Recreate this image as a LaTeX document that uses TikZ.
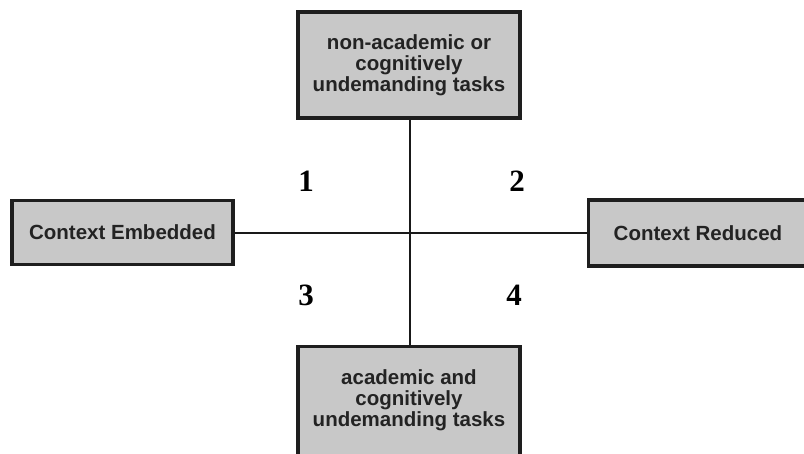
\documentclass[tikz,border=0pt]{standalone}
\usepackage{fontspec}
\setmainfont{Liberation Sans}
\newfontfamily\numfont{Liberation Serif}
\definecolor{boxfill}{RGB}{200,200,200}
\definecolor{boxedge}{RGB}{30,30,30}
\definecolor{boxtext}{RGB}{35,35,35}
\definecolor{linecol}{RGB}{25,25,25}
\tikzset{
  taskbox/.style={draw=boxedge, line width=3.2pt, fill=boxfill,
    text=boxtext, align=center, inner sep=0pt,
    font=\bfseries\fontsize{20.5}{21}\selectfont},
  boxlabel/.style={text=boxtext, align=center, inner sep=0pt,
    font=\bfseries\fontsize{20.5}{21}\selectfont},
  axis/.style={draw=linecol, line width=2.8pt},
  quadrant/.style={font=\numfont\bfseries\fontsize{31}{31}\selectfont, text=black}
}
\begin{document}
\begin{tikzpicture}[x=1pt,y=-1pt]
\useasboundingbox (0,0) rectangle (804,453);
\begin{scope}
\clip (0,0) rectangle (804,453);
% boxes at the four ends of the axes
\node[taskbox, minimum width=222pt, minimum height=106pt] (top) at (409,65)
  {non-academic or\\cognitively\\undemanding tasks};
\node[taskbox, minimum width=221pt, minimum height=64pt] (left) at (122.5,232.5)
  {Context Embedded};
% the right and bottom boxes run past the edge of the page
\node[taskbox, minimum width=300pt, minimum height=66pt, anchor=west] (right) at (587,233) {};
\node[boxlabel] (righttext) at (698,233) {Context Reduced};
\node[taskbox, minimum width=222pt, minimum height=200pt, anchor=north] (bottom) at (409,345) {};
\node[boxlabel] (bottomtext) at (409,400) {academic and\\cognitively\\undemanding tasks};
\end{scope}
% the two crossing axes
\draw[axis] (top.south -| 410,0) -- (bottom.north -| 410,0);
\draw[axis] (left.east |- 0,233) -- (right.west |- 0,233);
% quadrant numbers
\node[quadrant] (q1) at (306,181) {1};
\node[quadrant] (q2) at (517,181) {2};
\node[quadrant] (q3) at (306,295) {3};
\node[quadrant] (q4) at (514,295) {4};
\end{tikzpicture}
\end{document}
